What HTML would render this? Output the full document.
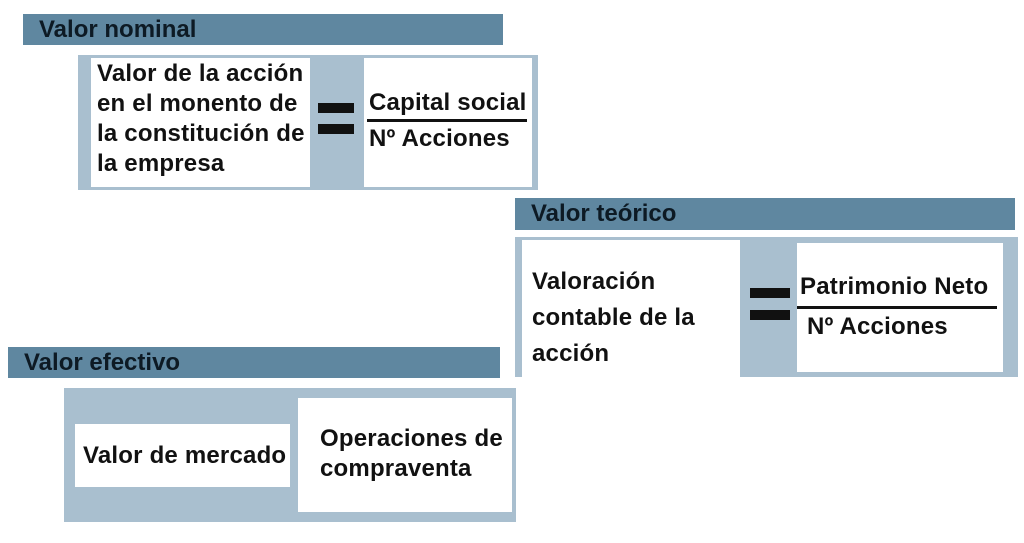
<!DOCTYPE html>
<html><head><meta charset="utf-8"><style>
body{margin:0;width:1024px;height:543px;background:#fff;position:relative;overflow:hidden;font-family:"Liberation Sans",sans-serif;font-weight:bold;color:#111}
div{position:absolute;box-sizing:border-box;white-space:nowrap}
.h{background:#5f87a0;font-size:24px;padding-left:16px;line-height:31px;color:#0d1a24}
.p{background:#a9bfcf}
.w{background:#fff}
.t{font-size:24px;line-height:30px;letter-spacing:0.2px}
.eq{background:#111;height:10px}
</style></head><body>
<div class="h" style="left:23px;top:14px;width:480px;height:31px">Valor nominal</div>
<div class="p" style="left:78px;top:55px;width:460px;height:135px"></div>
<div class="w t" style="left:91px;top:58px;width:219px;height:129px;padding:1px 0 0 6px">Valor de la acción<br>en el monento de<br>la constitución de<br>la empresa</div>
<div class="eq" style="left:318px;top:103px;width:36px"></div>
<div class="eq" style="left:318px;top:124px;width:36px"></div>
<div class="w t" style="left:364px;top:58px;width:168px;height:129px"></div>
<div class="t" style="left:369px;top:88px">Capital social</div>
<div style="left:367px;top:119px;width:160px;height:3px;background:#111"></div>
<div class="t" style="left:369px;top:124px">Nº Acciones</div>

<div class="h" style="left:515px;top:198px;width:500px;height:32px">Valor teórico</div>
<div class="p" style="left:515px;top:237px;width:503px;height:140px"></div>
<div class="w t" style="left:522px;top:240px;width:218px;height:137px;padding:24px 0 0 10px;line-height:36px">Valoración<br>contable de la<br>acción</div>
<div class="eq" style="left:750px;top:288px;width:40px"></div>
<div class="eq" style="left:750px;top:310px;width:40px"></div>
<div class="w t" style="left:797px;top:243px;width:206px;height:129px"></div>
<div class="t" style="left:800px;top:272px">Patrimonio Neto</div>
<div style="left:797px;top:306px;width:200px;height:3px;background:#111"></div>
<div class="t" style="left:807px;top:312px">Nº Acciones</div>

<div class="h" style="left:8px;top:347px;width:492px;height:31px">Valor efectivo</div>
<div class="p" style="left:64px;top:388px;width:452px;height:134px"></div>
<div class="w t" style="left:75px;top:424px;width:215px;height:63px;padding:17px 0 0 8px">Valor de mercado</div>
<div class="w t" style="left:298px;top:398px;width:214px;height:114px;padding:26px 0 0 22px;line-height:30px">Operaciones de<br>compraventa</div>
</body></html>
